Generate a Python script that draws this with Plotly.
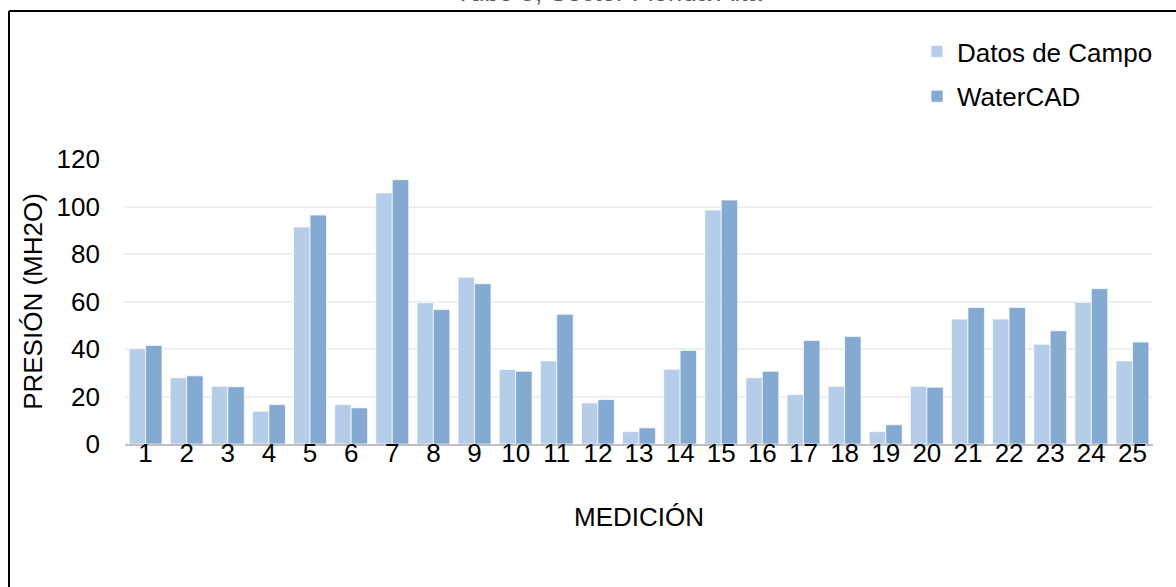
import plotly.graph_objects as go

# Measurement numbers and pressures (m H2O)
mediciones = [str(i) for i in range(1, 26)]
datos_campo = [40.1, 27.9, 24.3, 13.8, 91.4, 16.6, 105.7, 59.5, 70.2, 31.4,
               35.0, 17.3, 5.2, 31.5, 98.5, 27.9, 20.8, 24.3, 5.2, 24.3,
               52.6, 52.6, 42.0, 59.6, 35.0]
watercad = [41.5, 28.7, 24.1, 16.6, 96.4, 15.2, 111.3, 56.6, 67.5, 30.6,
            54.6, 18.7, 6.8, 39.4, 102.7, 30.6, 43.6, 45.3, 8.1, 23.9,
            57.5, 57.5, 47.7, 65.4, 42.9]
y_ticks = [0, 20, 40, 60, 80, 100, 120]

W, H = 1176, 587
L, R, T, B = 125, 23, 159, 143
PW, PH = W - L - R, H - T - B


def px(x):
    return (x - L) / PW


def py(y):
    return (H - B - y) / PH


FONT = "Arial, Liberation Sans, sans-serif"
FS = 26

fig = go.Figure()
fig.add_trace(go.Bar(
    x=mediciones, y=datos_campo, name="Datos de Campo",
    marker=dict(color="#B6CDE9", line=dict(color="rgba(255,255,255,0.7)", width=1)),
    legendgroup="a",
))
fig.add_trace(go.Bar(
    x=mediciones, y=watercad, name="WaterCAD",
    marker=dict(color="#84AAD1", line=dict(color="rgba(255,255,255,0.7)", width=1)),
    legendgroup="b",
))

fig.update_layout(
    width=W, height=H,
    margin=dict(l=L, r=R, t=T, b=B, pad=0),
    paper_bgcolor="white", plot_bgcolor="white",
    barmode="group", bargap=0.2, bargroupgap=0,
    font=dict(family=FONT, size=FS, color="#000000"),
    legend=dict(
        x=px(917), y=py(28), xanchor="left", yanchor="top",
        font=dict(size=FS, color="#000000"),
        traceorder="grouped", tracegroupgap=8,
        itemwidth=30, bgcolor="rgba(0,0,0,0)",
    ),
    xaxis=dict(
        type="category", showgrid=False, zeroline=False,
        showline=True, linecolor="#BFBFBF", linewidth=2,
        ticks="", tickfont=dict(size=FS), ticklabelstandoff=-15,
        title=dict(text="MEDICIÓN", font=dict(size=FS), standoff=41),
    ),
    yaxis=dict(
        range=[0, 120], tickvals=y_ticks, showgrid=True,
        gridcolor="#EFEFEF", gridwidth=2, zeroline=False, showline=False,
        ticks="", tickfont=dict(size=FS), ticklabelstandoff=24,
        title=dict(text="PRESIÓN (MH2O)", font=dict(size=FS), standoff=6),
    ),
    shapes=[
        dict(type="line", xref="paper", yref="paper",
             x0=px(9), y0=py(11), x1=px(W + 5), y1=py(11),
             line=dict(color="black", width=2)),
        dict(type="line", xref="paper", yref="paper",
             x0=px(9), y0=py(11), x1=px(9), y1=py(H + 5),
             line=dict(color="black", width=2)),
    ],
    annotations=[
        dict(text="Tubo 5, Sector Florida Alta", xref="paper", yref="paper",
             x=px(608), y=py(9), xanchor="center", yanchor="bottom",
             showarrow=False, font=dict(size=FS, color="#595959")),
    ],
)

fig.write_html("out.html")
